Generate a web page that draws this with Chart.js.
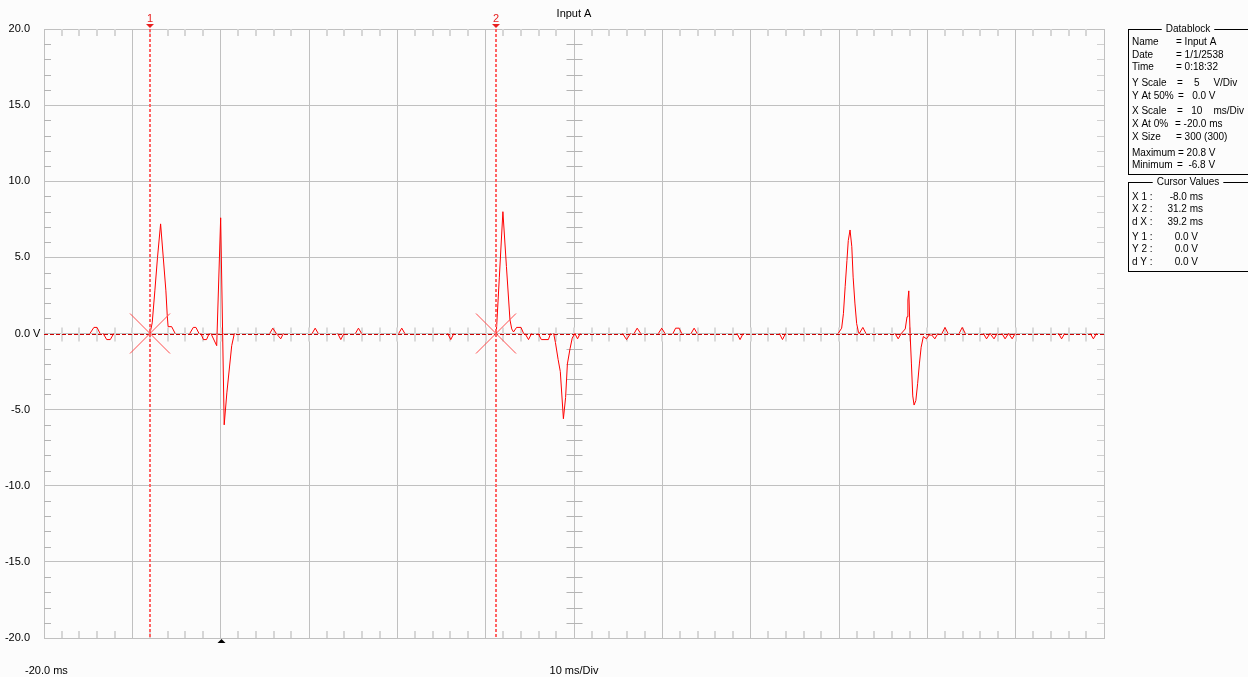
<!DOCTYPE html>
<html>
<head>
<meta charset="utf-8">
<title>Input A</title>
<script src="https://cdn.jsdelivr.net/npm/chart.js@4.4.1/dist/chart.umd.min.js"></script>
<style>
  html, body { margin: 0; padding: 0; background: #fcfcfc; }
  #wrap { position: relative; width: 1248px; height: 677px; }
</style>
</head>
<body>
<div id="wrap"><canvas id="scope" width="1248" height="677"></canvas></div>
<script>
// 파형 데이터 (시간 ms, 전압 V) - 화면에서 읽은 값
const timeMs = [
  -20,
  -14.8, -14.35, -14.0, -13.65,
  -13.3, -12.9, -12.5, -12.1,
  -8.0, -7.75, -7.45, -7.15, -6.8, -6.5, -6.2, -6.05, -5.95, -5.55, -5.15,
  -3.5, -3.1, -2.8, -2.45,
  -2.25, -1.95, -1.6, -1.3,
  -1.1, -0.45, 0.0, 0.4, 0.7, 1.0, 1.25, 1.55,
  5.55, 5.9, 6.3, 6.8, 7.1,
  10.35, 10.7, 11.05,
  13.25, 13.6, 13.95,
  15.25, 15.6, 15.95,
  20.15, 20.5, 20.85,
  25.7, 26.05, 26.4,
  31.2, 31.55, 31.95, 32.35, 32.75, 32.95, 33.15, 33.5, 34.0, 34.3,
  34.45, 34.85, 35.2,
  35.95, 36.3, 37.1, 37.35,
  37.7, 37.9, 38.2, 38.45, 38.8, 39.05, 39.25, 39.55, 39.8, 40.1, 40.4, 40.7,
  45.5, 45.95, 46.4,
  46.8, 47.15, 47.55,
  49.55, 49.93, 50.3,
  51.2, 51.5, 51.9, 52.2,
  53.25, 53.6, 53.95,
  58.45, 58.8, 59.15,
  63.25, 63.6, 63.95,
  69.9, 70.3, 70.5, 70.7, 70.9, 71.05, 71.25, 71.45, 71.6, 71.8, 72.0, 72.2, 72.3, 72.7, 73.05,
  76.35, 76.7, 77.05,
  77.5, 77.7, 77.8, 77.9, 78.05, 78.2, 78.35, 78.5, 78.7, 78.9, 79.1, 79.3, 79.55, 79.9, 80.2, 80.5, 80.85, 81.2,
  81.65, 82.0, 82.35,
  83.6, 83.95, 84.3,
  86.35, 86.7, 87.1, 87.55, 87.9,
  88.45, 88.8, 89.2, 89.6, 89.95,
  94.85, 95.2, 95.55,
  98.45, 98.8, 99.15,
  100
];
const volts = [
  0,
  0, 0.4, 0.4, 0,
  0, -0.4, -0.4, 0,
  0, 0.7, 2.8, 5.0, 7.2, 5.0, 2.8, 1.2, 0.45, 0.45, 0,
  0, 0.4, 0.4, 0,
  0, -0.4, -0.4, 0,
  0, -0.8, 7.6, -6.0, -3.9, -2.2, -0.8, 0,
  0, 0.35, 0, -0.35, 0,
  0, 0.35, 0,
  0, -0.4, 0,
  0, 0.35, 0,
  0, 0.35, 0,
  0, -0.4, 0,
  0, 3.7, 8.0, 4.4, 0.9, 0.3, 0.1, 0.4, 0.4, 0,
  0, -0.4, 0,
  0, -0.4, -0.4, 0,
  0, -0.6, -1.7, -2.5, -5.6, -4.2, -2.0, -1.0, -0.3, 0, -0.35, 0,
  0, -0.4, 0,
  0, 0.35, 0,
  0, 0.35, 0,
  0, 0.35, 0.35, 0,
  0, 0.35, 0,
  0, -0.4, 0,
  0, -0.4, 0,
  0, 0.35, 1.3, 3.1, 4.8, 6.1, 6.8, 5.7, 3.7, 2.0, 0.65, 0.1, 0, 0.4, 0,
  0, -0.35, 0,
  0.3, 1.1, 2.2, 2.8, 0, -2.0, -4.1, -4.7, -4.4, -3.3, -2.0, -0.9, -0.2, -0.35, -0.1, -0.1, -0.35, 0,
  0, 0.4, 0,
  0, 0.4, 0,
  0, -0.35, 0, -0.35, 0,
  0, -0.35, 0, -0.35, 0,
  0, -0.35, 0,
  0, -0.35, 0,
  0
];

// 축 범위와 눈금
const xMin = -20, xMax = 100, xStep = 10;
const yMin = -20, yMax = 20, yStep = 5;
const yTickValues = [20, 15, 10, 5, 0, -5, -10, -15, -20];
const yTickLabels = ['20.0', '15.0', '10.0', '5.0', '0.0', '-5.0', '-10.0', '-15.0', '-20.0'];

// 커서와 트리거
const cursorTimes = [-8.0, 31.2];
const cursorNames = ['1', '2'];
const triggerTime = 0;

// 텍스트
const titleText = 'Input A';
const startText = '-20.0 ms';
const scaleText = '10 ms/Div';
const dbLabels = ['Name', 'Date', 'Time', 'Y Scale', 'Y At 50%', 'X Scale', 'X At 0%', 'X Size', 'Maximum', 'Minimum'];
const dbValues = ['= Input A', '= 1/1/2538', '= 0:18:32', '=    5     V/Div', '=   0.0 V', '=   10    ms/Div', '= -20.0 ms', '= 300 (300)', '= 20.8 V', '=  -6.8 V'];
const cvLabels = ['X 1 :', 'X 2 :', 'd X :', 'Y 1 :', 'Y 2 :', 'd Y :'];
const cvValues = ['-8.0 ms', '31.2 ms', '39.2 ms', '0.0 V', '0.0 V', '0.0 V'];

const FONT = '11px "Liberation Sans", Arial, sans-serif';
const SMALL_FONT = '10px "Liberation Sans", Arial, sans-serif';

function crisp(v) {
    return Math.round(v) + 0.5;
}

function line(ctx, x1, y1, x2, y2) {
    ctx.beginPath();
    ctx.moveTo(x1, y1);
    ctx.lineTo(x2, y2);
    ctx.stroke();
}

// 눈금, 영점선, 커서, 글자 그리기
const scopeDecor = {
    id: 'scopeDecor',
    beforeDatasetsDraw(chart) {
        const { ctx, chartArea: a, scales: { x, y } } = chart;
        ctx.save();

        // 위/아래 가장자리 작은 눈금 (2 ms)
        ctx.strokeStyle = '#d6d6d6';
        ctx.lineWidth = 2;
        for (let i = 0; i <= (xMax - xMin) / 2; i++) {
            const t = xMin + i * 2;
            if (t % xStep === 0) continue;
            const px = Math.round(x.getPixelForValue(t));
            line(ctx, px, a.top, px, a.top + 7);
            line(ctx, px, a.bottom, px, a.bottom - 7);
        }

        // 왼쪽/오른쪽/가운데 작은 눈금 (1 V)
        ctx.lineWidth = 1;
        const xc = crisp(x.getPixelForValue((xMin + xMax) / 2));
        for (let v = yMin + 1; v < yMax; v++) {
            if (v % yStep === 0) continue;
            const py = crisp(y.getPixelForValue(v));
            ctx.strokeStyle = '#b4b4b4';
            line(ctx, a.left, py, a.left + 7, py);
            line(ctx, xc - 8, py, xc + 8, py);
            ctx.strokeStyle = '#d0d0d0';
            line(ctx, a.right, py, a.right - 7, py);
        }

        // 영점선 위 눈금
        const y0 = crisp(y.getPixelForValue(0));
        ctx.strokeStyle = '#dadada';
        ctx.lineWidth = 2;
        for (let i = 1; i < (xMax - xMin) / 2; i++) {
            const px = Math.round(x.getPixelForValue(xMin + i * 2));
            line(ctx, px, y0 - 7, px, y0 + 7);
        }

        // 영점 점선
        ctx.strokeStyle = '#cc0000';
        ctx.lineWidth = 1;
        ctx.setLineDash([4, 2]);
        line(ctx, a.left, y0, a.right, y0);
        ctx.restore();
    },
    afterDatasetsDraw(chart) {
        const { ctx, chartArea: a, scales: { x, y } } = chart;
        const y0 = y.getPixelForValue(0);
        ctx.save();

        cursorTimes.forEach((t, i) => {
            const cx = Math.round(x.getPixelForValue(t));
            // 커서 점선
            ctx.strokeStyle = '#ff6464';
            ctx.lineWidth = 2;
            ctx.setLineDash([3, 2]);
            line(ctx, cx, a.top, cx, a.bottom);
            ctx.setLineDash([]);
            // X 표시
            ctx.strokeStyle = '#ff4c4c';
            ctx.lineWidth = 1;
            line(ctx, cx - 20, y0 - 20, cx + 20, y0 + 20);
            line(ctx, cx - 20, y0 + 20, cx + 20, y0 - 20);
            // 번호와 삼각형
            ctx.fillStyle = '#e82020';
            ctx.beginPath();
            ctx.moveTo(cx - 4, a.top - 5);
            ctx.lineTo(cx + 4, a.top - 5);
            ctx.lineTo(cx, a.top - 1);
            ctx.closePath();
            ctx.fill();
            ctx.font = FONT;
            ctx.textAlign = 'center';
            ctx.textBaseline = 'middle';
            ctx.fillText(cursorNames[i], cx, a.top - 10);
        });

        // 트리거 표시
        const tx = Math.round(x.getPixelForValue(triggerTime)) + 0.5;
        ctx.fillStyle = '#000000';
        ctx.beginPath();
        ctx.moveTo(tx, a.bottom + 1);
        ctx.lineTo(tx + 4, a.bottom + 5);
        ctx.lineTo(tx - 4, a.bottom + 5);
        ctx.closePath();
        ctx.fill();
        ctx.restore();
    },
    afterDraw(chart) {
        const { ctx, scales: { x, y } } = chart;
        ctx.save();
        ctx.font = FONT;
        ctx.fillStyle = '#000000';
        ctx.textBaseline = 'middle';

        // Y 축 라벨
        yTickValues.forEach((v, i) => {
            const py = y.getPixelForValue(v);
            ctx.textAlign = 'right';
            ctx.fillText(yTickLabels[i], 30, py);
            if (v === 0) {
                ctx.textAlign = 'left';
                ctx.fillText(' V', 30, py);
            }
        });

        // 제목과 아래 글자
        const xc = x.getPixelForValue((xMin + xMax) / 2);
        ctx.textAlign = 'center';
        ctx.fillText(titleText, xc, 14);
        ctx.fillText(scaleText, xc, 671);
        ctx.textAlign = 'left';
        ctx.fillText(startText, 25, 671);

        // 데이터 블록
        ctx.font = SMALL_FONT;
        drawBox(ctx, 'Datablock', 29.5, 174.5);
        ctx.textAlign = 'left';
        const dbY = [42, 55, 67.5, 83, 96, 111.5, 124, 137, 153, 165.5];
        const dbX = [1176, 1176, 1176, 1177, 1178, 1177, 1175, 1176, 1178, 1177];
        dbLabels.forEach((lab, i) => {
            ctx.fillText(lab, 1132, dbY[i]);
            ctx.fillText(dbValues[i], dbX[i], dbY[i]);
        });

        // 커서 값
        drawBox(ctx, 'Cursor Values', 182.5, 271.5);
        const cvY = [197, 209.5, 222, 237, 249.5, 262];
        cvLabels.forEach((lab, i) => {
            ctx.textAlign = 'left';
            ctx.fillText(lab, 1132, cvY[i]);
            ctx.textAlign = 'right';
            ctx.fillText(cvValues[i], cvValues[i].endsWith('ms') ? 1203 : 1198, cvY[i]);
        });
        ctx.restore();
    }
};

function drawBox(ctx, title, top, bottom) {
    ctx.strokeStyle = '#000000';
    ctx.lineWidth = 1;
    ctx.strokeRect(1128.5, top, 140, bottom - top);
    ctx.textAlign = 'center';
    const w = ctx.measureText(title).width;
    ctx.fillStyle = '#fcfcfc';
    ctx.fillRect(1188 - w / 2 - 4, top - 3, w + 8, 6);
    ctx.fillStyle = '#000000';
    ctx.fillText(title, 1188, top);
}

const points = timeMs.map((t, i) => ({ x: t, y: volts[i] }));

const ctx = document.getElementById('scope').getContext('2d');
new Chart(ctx, {
    type: 'line',
    data: {
        datasets: [{
            data: points,
            borderColor: '#ff0000',
            borderWidth: 1,
            pointRadius: 0,
            tension: 0,
            // 0 V 구간은 그리지 않아 점선이 보이게 함
            segment: {
                borderColor: c => (c.p0.parsed.y === 0 && c.p1.parsed.y === 0) ? 'rgba(0,0,0,0)' : undefined
            }
        }]
    },
    options: {
        responsive: false,
        animation: false,
        devicePixelRatio: 1,
        layout: { padding: { left: 44, right: 144, top: 29, bottom: 39 } },
        plugins: {
            legend: { display: false },
            tooltip: { enabled: false },
            title: { display: false }
        },
        scales: {
            x: {
                type: 'linear',
                min: xMin,
                max: xMax,
                ticks: { display: false, stepSize: xStep },
                grid: { color: '#c0c0c0', drawTicks: false },
                border: { color: '#c0c0c0' }
            },
            y: {
                min: yMin,
                max: yMax,
                ticks: { display: false, stepSize: yStep },
                grid: { color: '#c0c0c0', drawTicks: false },
                border: { color: '#c0c0c0' }
            }
        }
    },
    plugins: [scopeDecor]
});
</script>
</body>
</html>
